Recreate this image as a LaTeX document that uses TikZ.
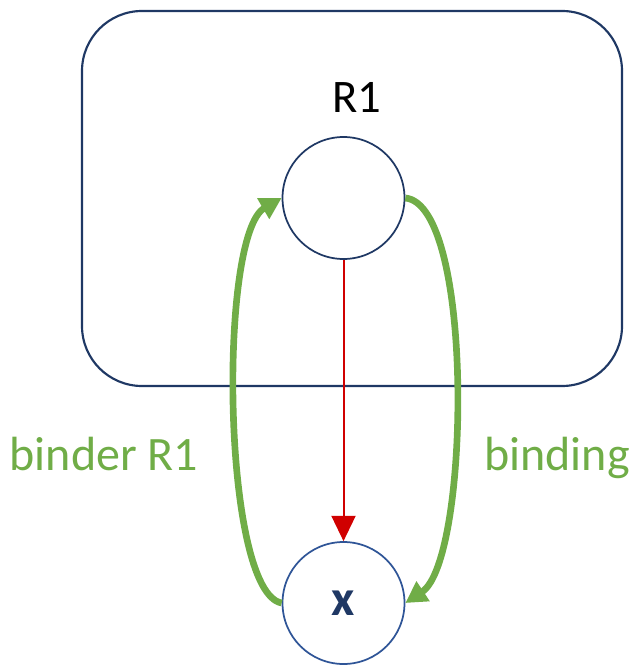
\documentclass[tikz,border=0pt]{standalone}
\usepackage{fontspec}
\setmainfont{Carlito}
\usetikzlibrary{arrows.meta}
\definecolor{navy}{HTML}{1F3864}
\definecolor{midblue}{HTML}{2F5597}
\definecolor{darkred}{HTML}{D00000}
\definecolor{lgreen}{HTML}{70AD47}
\begin{document}
\begin{tikzpicture}[x=0.75pt,y=-0.75pt,
  circ/.style={circle,draw,minimum size=91.5pt,inner sep=0pt,line width=1.3pt},
  greenarrow/.style={draw=lgreen,line width=5pt,-{Triangle[length=16pt,width=17pt,fill=lgreen]}},
  lbl/.style={font=\fontsize{36}{42}\selectfont,text=lgreen,inner sep=0pt,anchor=base}]
\useasboundingbox (0,0) rectangle (632,666);
\draw[navy,line width=1.6pt,rounded corners=45pt] (82,11) rectangle (622,386);
\node[circ,draw=navy] (r1) at (343.5,198) {};
\node[circ,draw=midblue] (x) at (343.5,603) {};
\node[font=\fontsize{38}{44}\selectfont\bfseries,text=navy,inner sep=0pt] (xl) at (343.5,603) {x};
\node[font=\fontsize{35}{42}\selectfont,inner sep=0pt,anchor=base] (r1l) at (357,113) {R1};
\draw[draw=darkred,line width=1.5pt,-{Triangle[length=19pt,width=18pt,fill=darkred]}] (r1.south) -- (x.north);
\draw[greenarrow] (x.west) .. controls (222,592) and (218,235) .. (r1.west);
\draw[greenarrow] (r1.east) .. controls (475,205) and (470,560) .. (x.east);
\node[lbl] (bl) at (104,470) {binder R1};
\node[lbl] (br) at (557,470) {binding};
\end{tikzpicture}
\end{document}
